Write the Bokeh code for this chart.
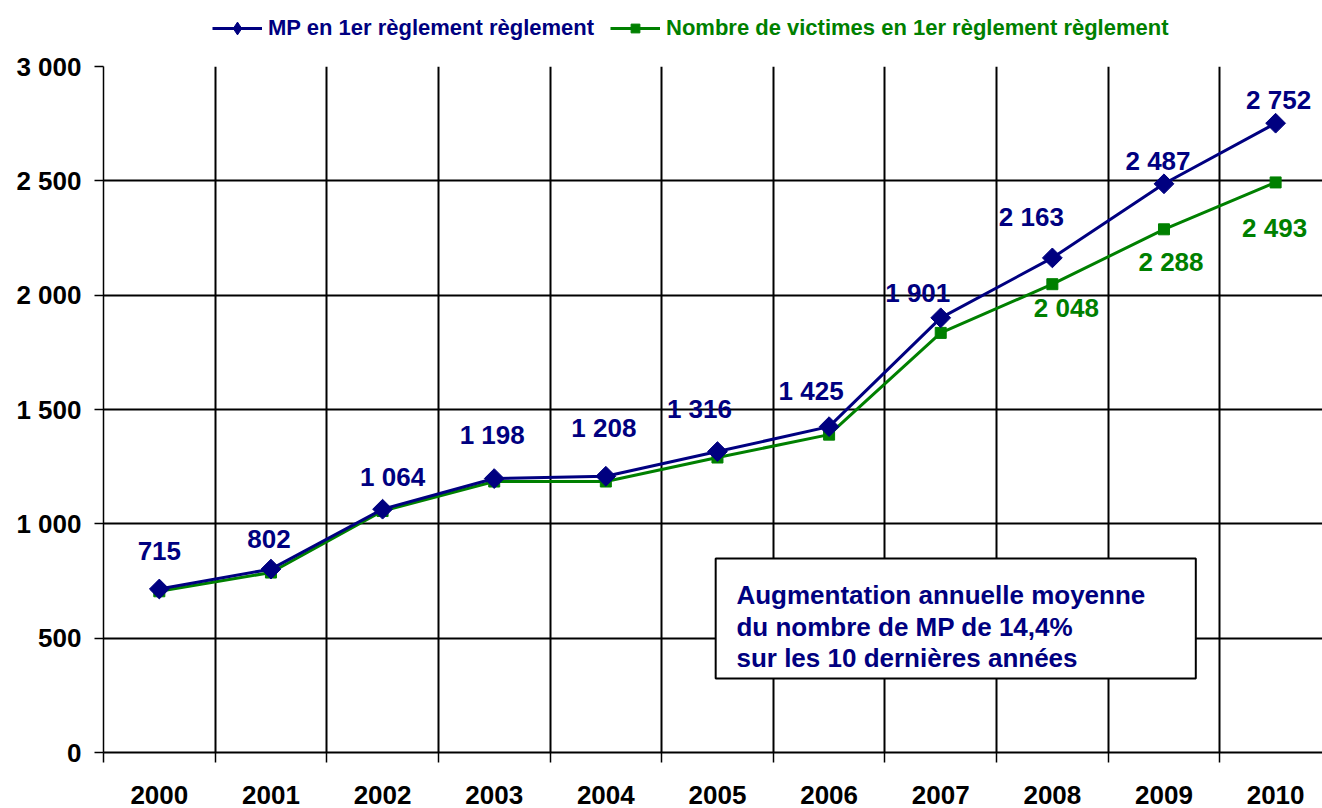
from bokeh.plotting import figure
from bokeh.models import (ColumnDataSource, FixedTicker, Legend, LegendItem,
                          BoxAnnotation, Label)
from bokeh.layouts import column
from bokeh.embed import file_html
from bokeh.resources import INLINE
from bokeh.core.properties import value
import math

years = ["2000", "2001", "2002", "2003", "2004", "2005", "2006", "2007", "2008", "2009", "2010"]
mp = [715, 802, 1064, 1198, 1208, 1316, 1425, 1901, 2163, 2487, 2752]
victimes = [705, 787, 1056, 1185, 1185, 1290, 1390, 1835, 2048, 2288, 2493]
y_ticks = [0, 500, 1000, 1500, 2000, 2500, 3000]
mp_label_name = "MP en 1er règlement règlement"
vic_label_name = "Nombre de victimes en 1er règlement règlement"
note_lines = ["Augmentation annuelle moyenne",
              "du nombre de MP de 14,4%",
              "sur les 10 dernières années"]

# label offsets (styling, pixels)
mp_dx = [0, -2, 10, -2, -2, -18, -18, -23, -21, -6, 3]
mp_dy = [-38, -30, -32, -44, -48, -43, -36, -25, -41, -23, -23]
vic_dx = [14, 7, -1]
vic_dy = [24, 33, 46]

def fmt(v):
    return f"{v:,}".replace(",", " ")

FONT = "Liberation Sans"
BLUE = "#000080"
GREEN = "#008000"

xs = list(range(len(years)))
nan = float("nan")

# ---- legend strip ----
top = figure(width=1322, height=48, output_backend="svg", toolbar_location=None,
             x_range=(0, 1), y_range=(0, 1), min_border=0,
             x_axis_type=None, y_axis_type=None, outline_line_color=None)
top.grid.visible = False
dummy = ColumnDataSource(dict(x=[nan], y=[nan]))
t_mp_l = top.line("x", "y", source=dummy, line_color=BLUE, line_width=3)
t_mp_s = top.scatter("x", "y", source=dummy, marker="diamond",
                     fill_color=BLUE, line_color=BLUE)
t_vic_l = top.line("x", "y", source=dummy, line_color=GREEN, line_width=3)
t_vic_s = top.scatter("x", "y", source=dummy, marker="square",
                      fill_color=GREEN, line_color=GREEN)

def make_legend(label, renderers, color, loc, gh):
    return Legend(items=[LegendItem(label=label, renderers=renderers)],
                  location=loc, orientation="horizontal",
                  label_text_font=FONT, label_text_font_style="bold",
                  label_text_font_size="22px", label_text_color=color,
                  glyph_width=50, glyph_height=gh, label_standoff=6,
                  padding=0, margin=0, spacing=0,
                  border_line_alpha=0, background_fill_alpha=0)

# frame of this strip is aligned with the main chart frame (left at 103 px)
top.add_layout(make_legend(mp_label_name, [t_mp_l, t_mp_s], BLUE, (109, 4), 32))
top.add_layout(make_legend(vic_label_name, [t_vic_l, t_vic_s], GREEN, (507, 7), 22))

# ---- main chart ----
p = figure(width=1322, height=760, output_backend="svg", toolbar_location=None,
           x_range=(-0.5, 10.42), y_range=(0, 3000),
           min_border_left=103, min_border_right=0, min_border_top=18,
           min_border_bottom=56, background_fill_color="white",
           border_fill_color="white", outline_line_color=None)

p.xaxis.ticker = FixedTicker(ticks=xs, minor_ticks=[i - 0.5 for i in range(len(years) + 1)])
p.xaxis.major_label_overrides = {i: y for i, y in zip(xs, years)}
p.xaxis.major_tick_line_color = None
p.xaxis.major_tick_out = 10
p.xaxis.major_tick_in = 0
p.xaxis.minor_tick_line_color = "black"
p.xaxis.minor_tick_line_width = 1.5
p.xaxis.minor_tick_out = 10
p.xaxis.minor_tick_in = 0
p.xaxis.axis_line_color = "black"
p.xaxis.axis_line_width = 2
p.xaxis.major_label_standoff = 23
p.xaxis.major_label_text_font = FONT
p.xaxis.major_label_text_font_style = "bold"
p.xaxis.major_label_text_font_size = "26px"
p.xaxis.major_label_text_color = "black"

p.yaxis.ticker = FixedTicker(ticks=y_ticks, minor_ticks=[])
p.yaxis.major_label_overrides = {t: fmt(t) for t in y_ticks}
p.yaxis.major_tick_line_color = "black"
p.yaxis.major_tick_line_width = 1.5
p.yaxis.major_tick_out = 9
p.yaxis.major_tick_in = 0
p.yaxis.minor_tick_line_color = None
p.yaxis.axis_line_color = "black"
p.yaxis.axis_line_width = 1.5
p.yaxis.major_label_standoff = 13
p.yaxis.major_label_text_font = FONT
p.yaxis.major_label_text_font_style = "bold"
p.yaxis.major_label_text_font_size = "26px"
p.yaxis.major_label_text_color = "black"

p.xgrid.grid_line_color = None
p.xgrid.minor_grid_line_color = "black"
p.xgrid.minor_grid_line_width = 2
p.ygrid.grid_line_color = "black"
p.ygrid.grid_line_width = 2

src_mp = ColumnDataSource(dict(x=xs, y=mp, lbl=[fmt(v) for v in mp], dx=mp_dx, dy=mp_dy))
src_vic = ColumnDataSource(dict(x=xs, y=victimes))
n = len(vic_dx)
src_vic_lbl = ColumnDataSource(dict(x=xs[-n:], y=victimes[-n:], lbl=[fmt(v) for v in victimes[-n:]],
                                    dx=vic_dx, dy=vic_dy))

p.line("x", "y", source=src_vic, line_color=GREEN, line_width=3)
p.scatter("x", "y", source=src_vic, marker="square", size=11,
          fill_color=GREEN, line_color=GREEN)
p.line("x", "y", source=src_mp, line_color=BLUE, line_width=3)
p.scatter("x", "y", source=src_mp, marker="square", size=14, angle=math.pi / 4,
          fill_color=BLUE, line_color=BLUE)

p.text("x", "y", text="lbl", source=src_mp, x_offset="dx", y_offset="dy",
       text_font=value(FONT), text_font_style="bold", text_font_size="26px",
       text_color=BLUE, text_align="center", text_baseline="middle")
p.text("x", "y", text="lbl", source=src_vic_lbl, x_offset="dx", y_offset="dy",
       text_font=value(FONT), text_font_style="bold", text_font_size="26px",
       text_color=GREEN, text_align="center", text_baseline="middle")

box = BoxAnnotation(left=4.984, right=9.285, bottom=324, top=848,
                    fill_color="white", fill_alpha=1.0,
                    line_color="black", line_alpha=1.0, line_width=2, level="annotation")
p.add_layout(box)
for txt, yy in zip(note_lines, [686.6, 551.0, 415.4]):
    p.add_layout(Label(x=5.17, y=yy, text=txt, text_font=FONT, text_font_style="bold",
                       text_font_size="26px", text_color=BLUE,
                       text_baseline="alphabetic", text_align="left", level="annotation"))

open("out.html", "w").write(file_html(column(top, p), INLINE))
